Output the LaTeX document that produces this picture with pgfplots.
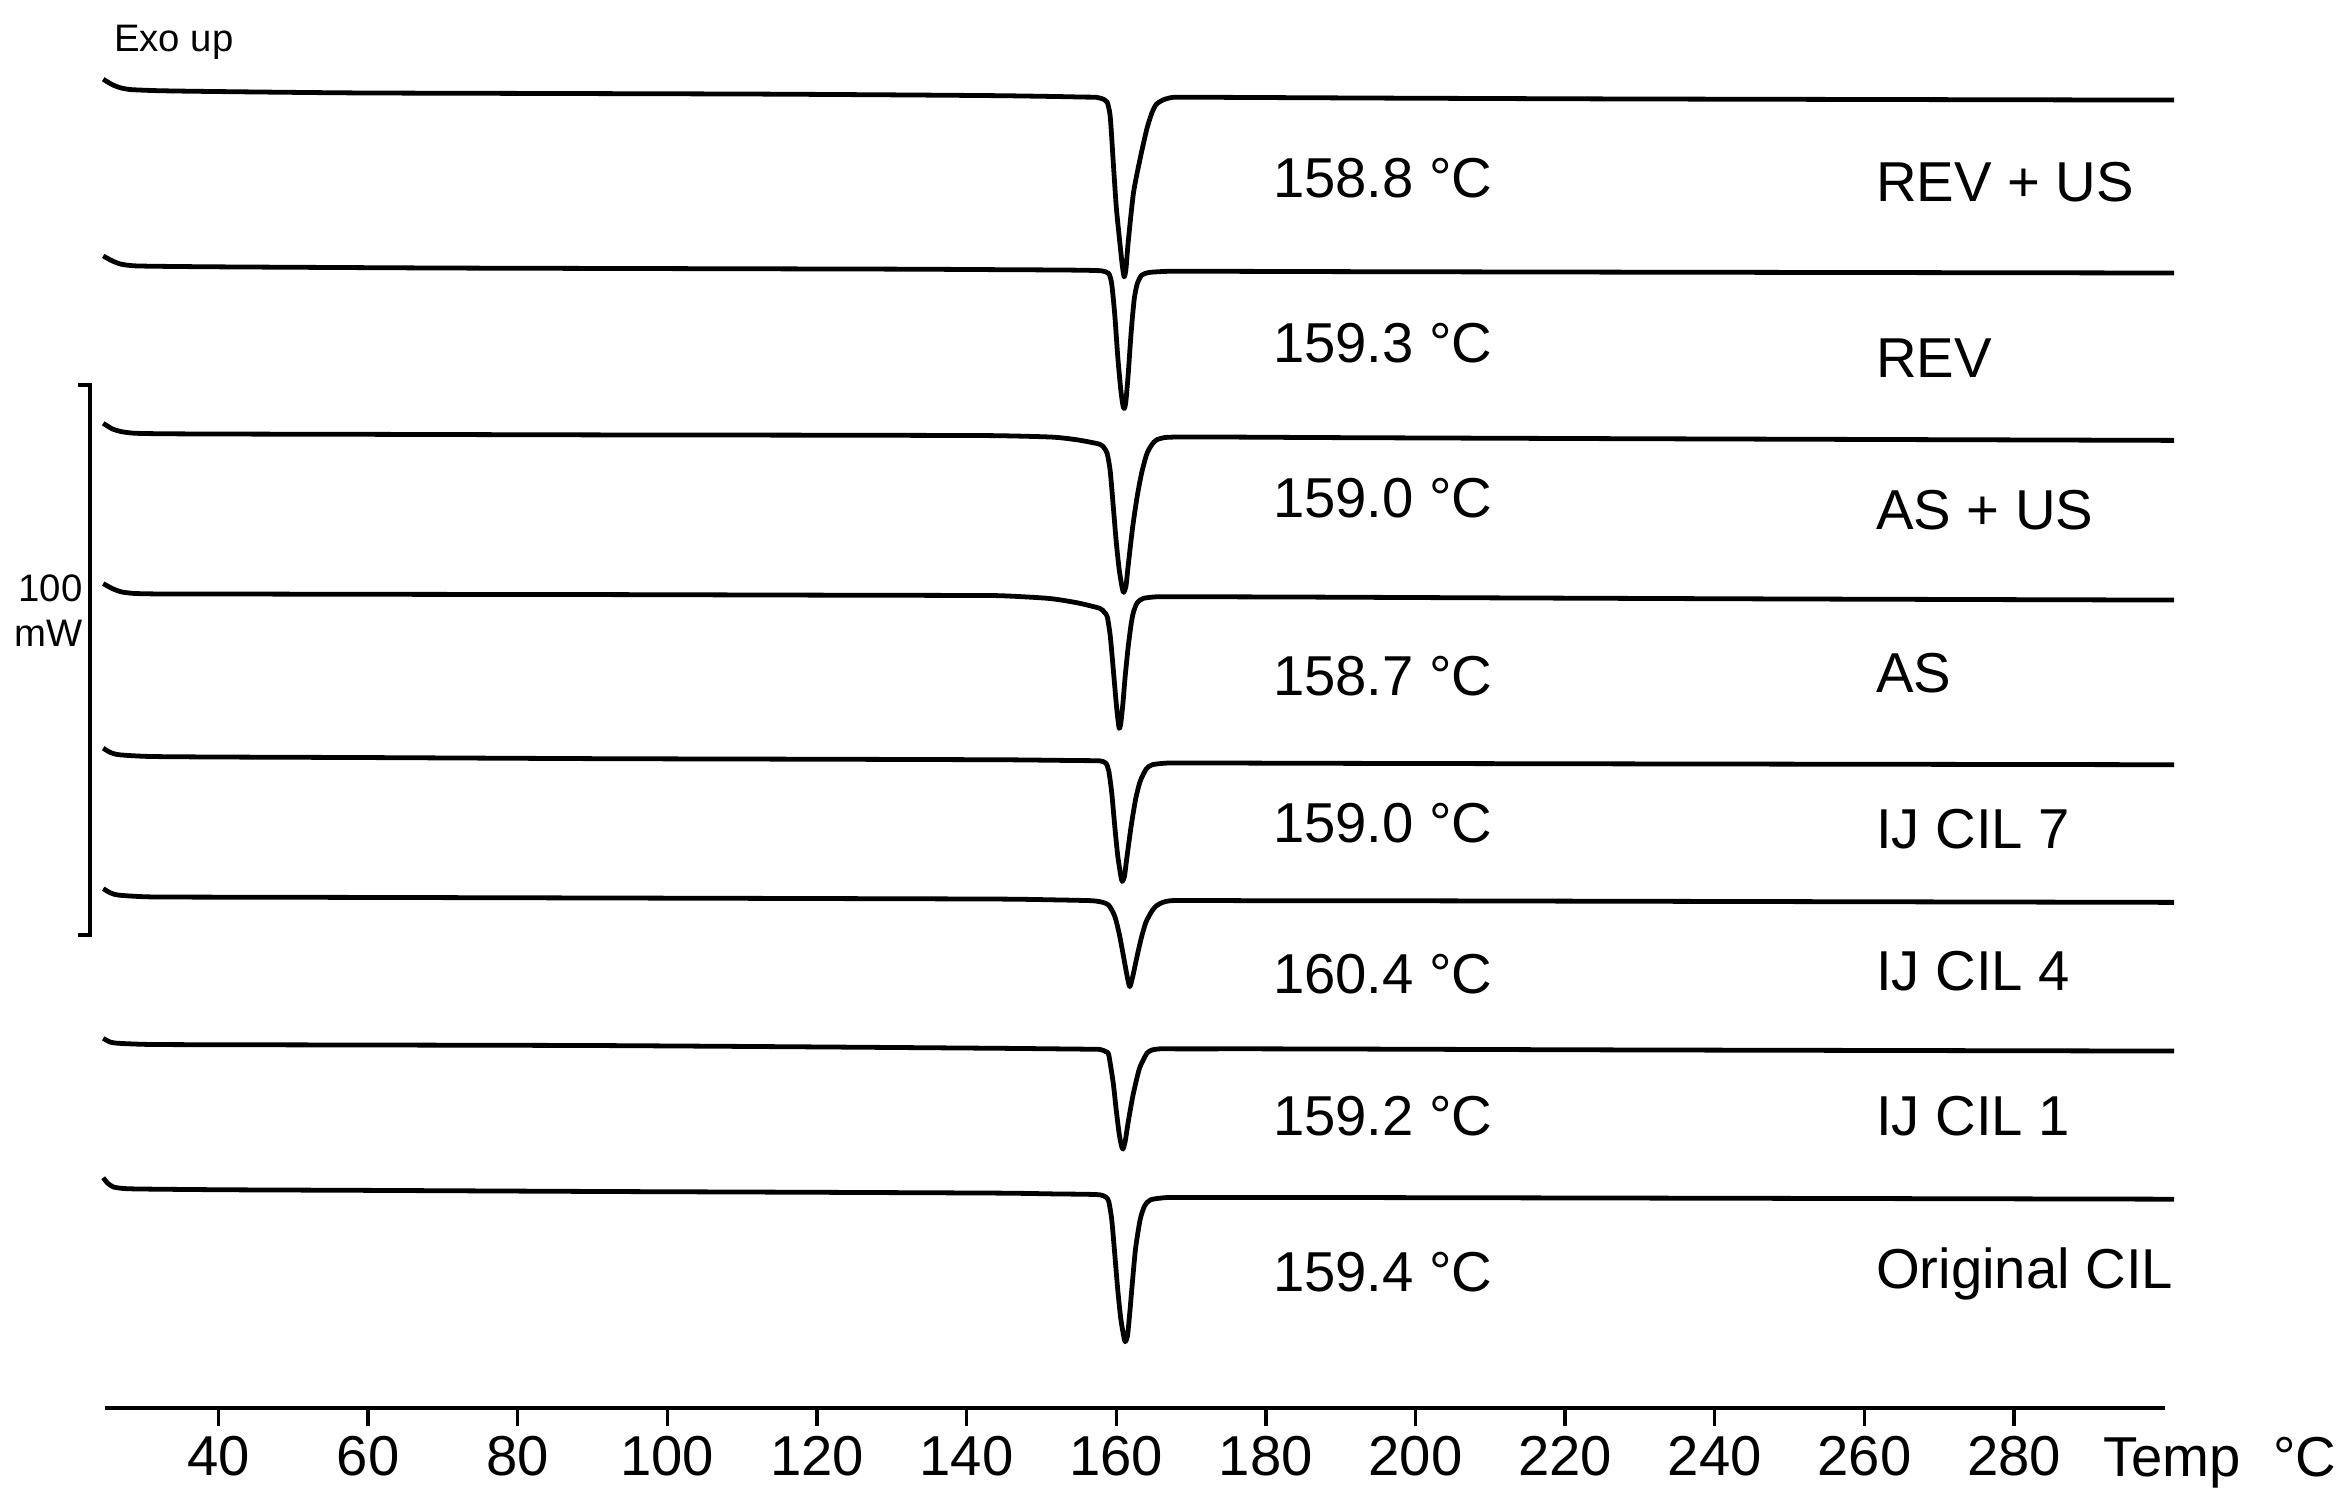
\documentclass[border=0pt]{standalone}
\usepackage{fontspec}
\setmainfont{Liberation Sans}
\usepackage{pgfplots}
\pgfplotsset{compat=1.18}
\usetikzlibrary{calc}

\newcommand{\lblfont}{\fontsize{9.4}{11}\selectfont}
\newcommand{\smallfont}{\fontsize{6.4}{7.5}\selectfont}

\begin{document}
\begin{tikzpicture}
\begin{axis}[
    name=ax,
    scale only axis,
    width=344.25pt, height=235.25pt,
    xmin=24.8, xmax=300.2,
    ymin=0, ymax=255.68,
    axis x line=bottom,
    axis y line=none,
    x axis line style={-, line width=0.7pt},
    xtick={40,60,...,280},
    tick align=outside,
    major tick length=3pt,
    xtick style={line width=0.55pt, black},
    minor tick num=0,
    /pgf/number format/assume math mode=true,
    xticklabel style={font=\lblfont, inner sep=0pt, yshift=-1.5pt},
    clip=false,
    trace/.style={black, solid, no markers, line width=0.8pt, smooth, tension=0.4, line join=round},
]
% REV + US
\addplot[trace] coordinates {(24.6,241.3)(25.8,240.3)(27.0,239.7)(28.4,239.4)(32.2,239.2)(40,239.05)(58.8,238.8)(85,238.7)(110.8,238.6)(130,238.45)(144.4,238.3)(152,238.15)(155.5,238.05)(157.4,238.0)(158.4,237.6)(158.8,237.1)(159.2,234.5)(159.6,226.3)(160.0,218.2)(160.4,212.7)(160.8,207.6)(161.06,205.4)(161.3,206.8)(161.6,211.7)(162.3,220.6)(163.2,226.9)(164.1,232.3)(164.8,235.3)(165.4,236.8)(166.4,237.6)(167.6,238.0)(170,238.0)(174,238.0)(182,237.95)(198,237.85)(230,237.7)(301.4,237.5)};
% REV
\addplot[trace] coordinates {(24.6,209.2)(25.8,208.3)(27.0,207.7)(28.8,207.4)(33.0,207.3)(42,207.2)(70.8,207.0)(100,206.9)(130.8,206.8)(145,206.7)(152,206.65)(155.5,206.6)(158.0,206.5)(159.0,206.0)(159.4,204.1)(159.8,198.6)(160.2,191.0)(160.6,185.0)(160.9,182.0)(161.1,181.5)(161.3,182.9)(161.6,187.7)(162.0,195.4)(162.4,201.3)(162.8,204.1)(163.4,205.7)(164.4,206.2)(166.8,206.4)(170,206.4)(176,206.4)(190,206.35)(230,206.25)(301.4,206.1)};
% AS + US
\addplot[trace] coordinates {(24.6,178.8)(25.8,177.8)(27.0,177.3)(28.8,177.0)(33.0,176.9)(42,176.85)(60,176.8)(90.8,176.7)(120,176.65)(137,176.6)(144.4,176.55)(151.4,176.3)(154.8,175.8)(157.8,175.0)(158.4,174.3)(158.8,173.3)(159.2,170.1)(159.6,163.8)(160.0,157.3)(160.4,152.2)(160.8,148.9)(161.0,148.1)(161.3,149.2)(161.6,153.0)(162.2,160.0)(162.8,165.5)(163.4,169.8)(164.1,173.3)(164.8,175.0)(165.4,175.8)(166.4,176.2)(167.6,176.3)(170,176.3)(176,176.3)(190,176.2)(230,176.0)(301.4,175.7)};
% AS
\addplot[trace] coordinates {(24.6,149.7)(25.8,148.8)(27.0,148.2)(28.8,147.9)(33.0,147.8)(42,147.8)(60,147.75)(90.8,147.7)(120,147.6)(137,147.55)(144.4,147.5)(151.0,147.0)(154.8,146.2)(157.8,145.2)(158.4,144.5)(158.8,143.7)(159.2,140.2)(159.6,134.2)(160.0,128.0)(160.2,125.3)(160.4,123.4)(160.6,124.2)(160.9,128.0)(161.2,132.9)(161.6,138.2)(162.0,142.4)(162.3,144.5)(162.8,146.2)(163.6,147.0)(165.4,147.3)(168,147.3)(172,147.3)(185,147.25)(210.8,147.1)(250,146.9)(301.4,146.7)};
% IJ CIL 7
\addplot[trace] coordinates {(24.6,119.8)(25.6,119.0)(26.8,118.6)(30.8,118.3)(40,118.2)(60,118.1)(90.8,117.9)(120,117.8)(144.4,117.7)(152,117.6)(155.5,117.55)(157.8,117.5)(158.6,117.1)(159.0,115.7)(159.4,111.7)(159.8,105.7)(160.2,100.3)(160.6,96.7)(160.8,95.6)(161.1,96.5)(161.4,99.7)(162.0,105.7)(162.6,110.6)(163.2,113.8)(164.0,116.0)(164.8,116.8)(166.8,117.1)(170,117.1)(176,117.1)(190,117.05)(230,116.95)(301.4,116.8)};
% IJ CIL 4
\addplot[trace] coordinates {(24.6,94.3)(25.6,93.5)(26.8,93.1)(30.8,92.8)(40,92.75)(60,92.7)(90.8,92.6)(120,92.5)(144.4,92.4)(152,92.25)(156.8,92.1)(158.2,91.8)(159.0,91.3)(159.8,89.3)(160.4,86.1)(161.0,81.8)(161.4,78.8)(161.8,76.5)(162.2,78.3)(162.8,82.1)(163.4,85.6)(164.0,88.3)(164.8,90.3)(165.4,91.2)(166.2,91.8)(167.2,92.1)(169,92.15)(172,92.15)(180,92.1)(195,92.1)(230,92.0)(301.4,91.8)};
% IJ CIL 1
\addplot[trace] coordinates {(24.6,67.1)(25.6,66.4)(26.8,66.2)(30.8,66.0)(40,65.95)(60,65.9)(90.8,65.8)(120,65.55)(144.4,65.3)(152,65.2)(155.5,65.15)(157.8,65.1)(158.6,64.7)(159.0,64.1)(159.6,59.0)(160.0,54.1)(160.4,49.7)(160.7,47.6)(160.9,47.0)(161.2,48.4)(161.6,51.9)(162.2,56.5)(162.8,60.1)(163.2,62.0)(164.1,64.4)(164.8,65.0)(165.8,65.2)(168,65.2)(172,65.2)(180,65.2)(195,65.15)(230,65.0)(301.4,64.8)};
% Original CIL
\addplot[trace] coordinates {(24.6,41.8)(25.2,40.8)(26.0,40.1)(27.8,39.8)(32.8,39.7)(42,39.6)(60,39.5)(90.8,39.3)(120,39.15)(144.4,39.0)(152,38.85)(155.5,38.8)(157.8,38.7)(158.6,38.3)(159.0,37.5)(159.4,34.2)(159.8,28.0)(160.2,21.5)(160.6,16.3)(161.0,13.0)(161.2,12.0)(161.5,13.0)(161.8,17.1)(162.2,23.4)(162.6,29.1)(163.2,34.2)(163.8,36.7)(164.6,37.8)(166.8,38.2)(170,38.2)(176,38.2)(190,38.2)(230,38.1)(301.4,37.9)};

% peak temperatures
\begin{scope}[every node/.style={anchor=base west, inner sep=0pt, font=\lblfont}]
\node at (axis cs:180.8,219.8) {158.8 °C};
\node at (axis cs:180.8,189.9) {159.3 °C};
\node at (axis cs:180.8,161.7) {159.0 °C};
\node at (axis cs:180.8,129.3) {158.7 °C};
\node at (axis cs:180.8,102.7) {159.0 °C};
\node at (axis cs:180.8,75.3) {160.4 °C};
\node at (axis cs:180.8,49.4) {159.2 °C};
\node at (axis cs:180.8,21.2) {159.4 °C};
% sample names
\node at (axis cs:261.4,219.0) {REV + US};
\node at (axis cs:261.4,187.2) {REV};
\node at (axis cs:261.4,159.5) {AS + US};
\node at (axis cs:261.4,129.9) {AS};
\node at (axis cs:261.4,101.6) {IJ CIL 7};
\node at (axis cs:261.4,75.8) {IJ CIL 4};
\node at (axis cs:261.4,49.4) {IJ CIL 1};
\node at (axis cs:261.4,21.7) {Original CIL};
% axis title
\node at (axis cs:291.8,-12.5) {Temp};
\node at (axis cs:314.5,-12.5) {°C};
\end{scope}
\node[anchor=base west, inner sep=0pt, font=\smallfont] at (axis cs:25.9,246.3) {Exo up};
% 100 mW scale bar
\draw[line width=0.6pt] (axis cs:21.2,185.8) -- (axis cs:22.8,185.8) -- (axis cs:22.8,85.9) -- (axis cs:21.2,85.9);
\node[anchor=base east, inner sep=0pt, font=\smallfont] at (axis cs:22.0,146.4) {100};
\node[anchor=base east, inner sep=0pt, font=\smallfont] at (axis cs:22.0,138.3) {mW};
\end{axis}
\pgfresetboundingbox
\path[use as bounding box] ($(ax.south west)+(-17.5pt,-16pt)$) rectangle ($(ax.south west)+(374.5pt,235.25pt)$);
\end{tikzpicture}
\end{document}
